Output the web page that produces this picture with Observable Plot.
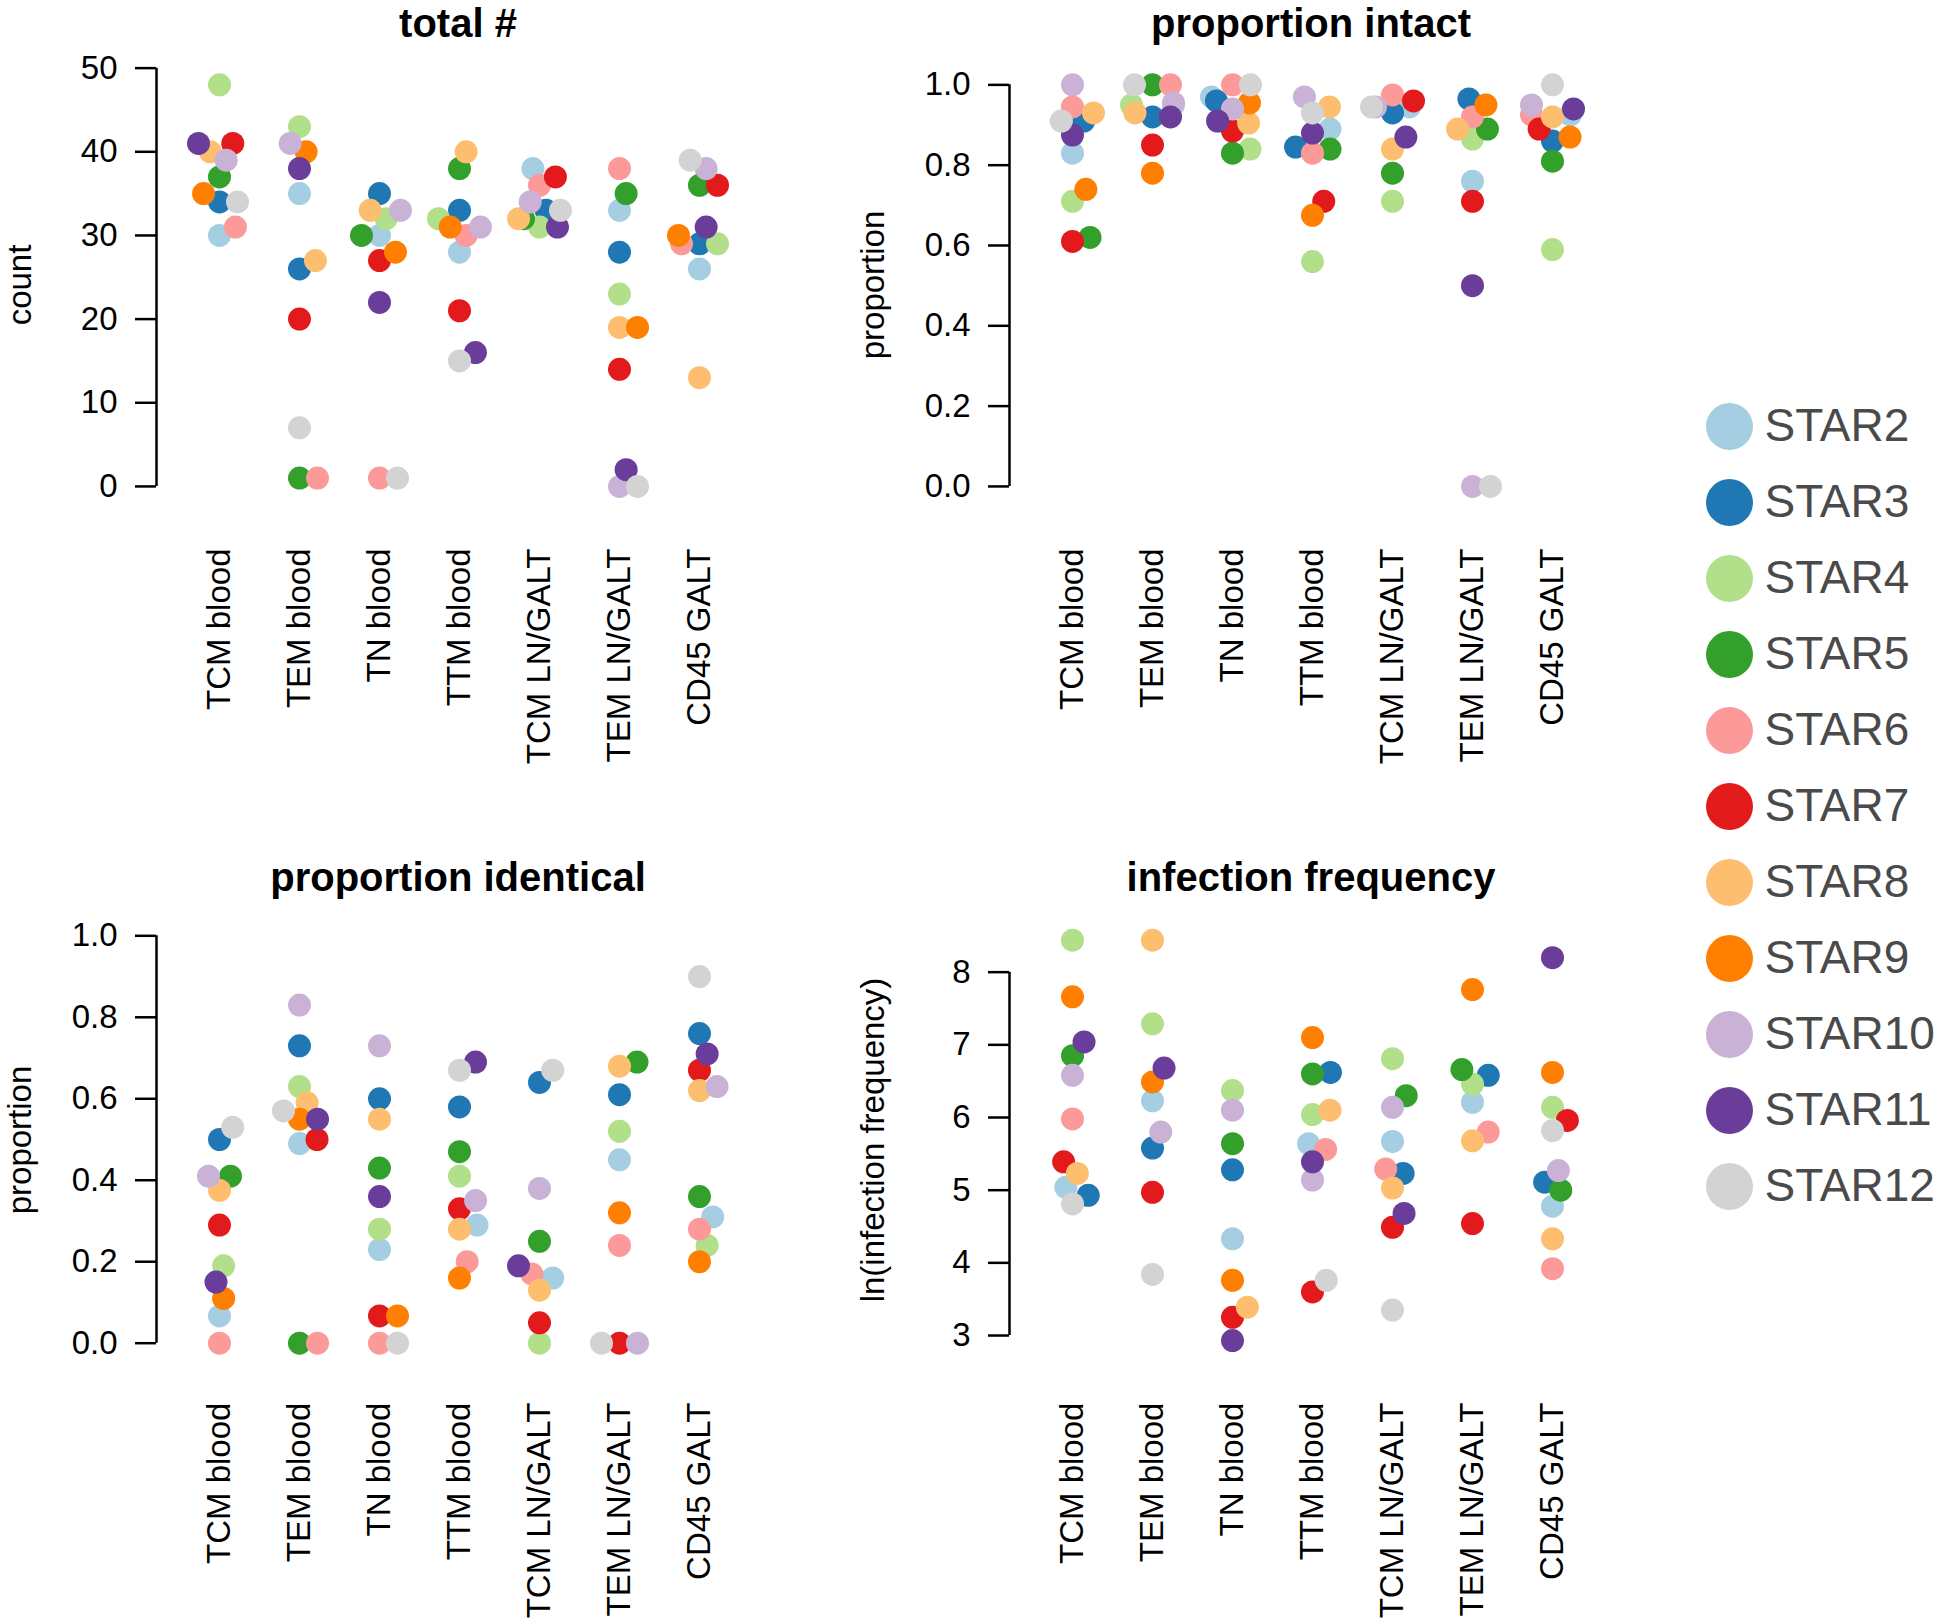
<!DOCTYPE html>
<html>
<head>
<meta charset="utf-8">
<script src="https://cdn.jsdelivr.net/npm/d3@7"></script>
<script src="https://cdn.jsdelivr.net/npm/@observablehq/plot@0.6"></script>
<style>
  body { margin: 0; background: #fff; }
  #root { position: relative; width: 1940px; height: 1624px; overflow: hidden; background: #fff; }
  .panel { position: absolute; }
</style>
</head>
<body>
<div id="root"></div>
<script>
// ---------------- data ----------------
const categories = ["TCM blood", "TEM blood", "TN blood", "TTM blood", "TCM LN/GALT", "TEM LN/GALT", "CD45 GALT"];
const stars = ["STAR2", "STAR3", "STAR4", "STAR5", "STAR6", "STAR7", "STAR8", "STAR9", "STAR10", "STAR11", "STAR12"];
const colors = ["#a6cee3", "#1f78b4", "#b2df8a", "#33a02c", "#fb9a99", "#e31a1c", "#fdbf6f", "#ff7f00", "#cab2d6", "#6a3d9a", "#d3d3d3"];

// rows: STAR2..STAR12, columns: categories (null = not measured)
const totalCount = [
  [30, 35, 30, 28, 38, 33, 26],
  [34, 26, 35, 33, 33, 28, 29],
  [48, 43, 32, 32, 31, 23, 29],
  [37, 1, 30, 38, 32, 35, 36],
  [31, 1, 1, 30, 36, 38, 29],
  [41, 20, 27, 21, 37, 14, 36],
  [40, 27, 33, 40, 32, 19, 13],
  [35, 40, 28, 31, null, 19, 30],
  [39, 41, 33, 31, 34, 0, 38],
  [41, 38, 22, 16, 31, 2, 31],
  [34, 7, 1, 15, 33, 0, 39]
];
const propIntact = [
  [0.83, 0.95, 0.97, 0.89, 0.945, 0.76, 0.925],
  [0.91, 0.92, 0.96, 0.845, 0.93, 0.965, 0.86],
  [0.71, 0.95, 0.84, 0.56, 0.71, 0.865, 0.59],
  [0.62, 1.0, 0.83, 0.84, 0.78, 0.89, 0.81],
  [0.945, 1.0, 1.0, 0.83, 0.975, 0.92, 0.925],
  [0.61, 0.85, 0.885, 0.71, 0.96, 0.71, 0.89],
  [0.93, 0.93, 0.905, 0.945, 0.84, 0.89, 0.92],
  [0.74, 0.78, 0.955, 0.675, null, 0.95, 0.87],
  [1.0, 0.955, 0.94, 0.97, 0.945, 0.0, 0.95],
  [0.875, 0.92, 0.91, 0.88, 0.87, 0.5, 0.94],
  [0.91, 1.0, 1.0, 0.93, 0.945, 0.0, 1.0]
];
const propIdentical = [
  [0.067, 0.49, 0.23, 0.29, 0.16, 0.45, 0.31],
  [0.50, 0.73, 0.60, 0.58, 0.64, 0.61, 0.76],
  [0.19, 0.63, 0.28, 0.41, 0.0, 0.52, 0.24],
  [0.41, 0.0, 0.43, 0.47, 0.25, 0.69, 0.36],
  [0.0, 0.0, 0.0, 0.20, 0.17, 0.24, 0.28],
  [0.29, 0.50, 0.067, 0.33, 0.05, 0.0, 0.67],
  [0.375, 0.59, 0.55, 0.28, 0.13, 0.68, 0.62],
  [0.11, 0.55, 0.067, 0.16, null, 0.32, 0.20],
  [0.41, 0.83, 0.73, 0.35, 0.38, 0.0, 0.63],
  [0.15, 0.55, 0.36, 0.69, 0.19, null, 0.71],
  [0.53, 0.57, 0.0, 0.67, 0.67, 0.0, 0.90]
];
const lnInfectionFreq = [
  [5.04, 6.23, 4.33, 5.64, 5.67, 6.21, 4.78],
  [4.93, 5.58, 5.28, 6.62, 5.23, 6.58, 5.11],
  [8.44, 7.29, 6.37, 6.04, 6.81, 6.46, 6.14],
  [6.85, null, 5.64, 6.60, 6.30, 6.66, 5.00],
  [5.98, null, null, 5.56, 5.29, 5.80, 3.92],
  [5.39, 4.97, 3.25, 3.60, 4.49, 4.54, 5.96],
  [5.23, 8.44, 3.39, 6.10, 5.03, 5.68, 4.33],
  [7.66, 6.49, 3.76, 7.10, null, 7.76, 6.62],
  [6.58, 5.80, 6.10, 5.14, 6.14, null, 5.27],
  [7.04, 6.68, 2.93, 5.39, 4.68, null, 8.20],
  [4.81, 3.84, null, 3.76, 3.35, null, 5.82]
];

const countTicks = [0, 10, 20, 30, 40, 50];
const propTicks = [0, 0.2, 0.4, 0.6, 0.8, 1.0];
const freqTicks = [3, 4, 5, 6, 7, 8];

const titles = ["total #", "proportion intact", "proportion identical", "infection frequency"];
const yLabels = ["count", "proportion", "proportion", "ln(infection frequency)"];

// ---------------- drawing ----------------
const FONT = "'Liberation Sans', Arial, Helvetica, sans-serif";
const root = document.getElementById("root");

function toRows(values) {
  const rows = [];
  stars.forEach((s, si) => categories.forEach((c, ci) => {
    const v = values[si][ci];
    if (v != null) rows.push({star: s, si, cat: c, value: v});
  }));
  // swarm placement in ascending order of value
  rows.sort((a, b) => a.value - b.value || a.si - b.si);
  return rows;
}

// Mirror the swarm (ties go to the right side), keep it inside a corral
// around each group's centre (gutter), and draw in series order.
const GUTTER = 21;
const corralAndOrder = (data, facets, channels, scales, dimensions) => {
  const c = (dimensions.marginLeft + dimensions.width - dimensions.marginRight) / 2;
  const X = Float64Array.from(channels.x.value, (x) => Math.max(c - GUTTER, Math.min(c + GUTTER, 2 * c - x)));
  return {
    data,
    facets: facets.map((I) => Array.from(I).sort((a, b) => data[a].si - data[b].si)),
    channels: {x: {...channels.x, value: X}}
  };
};

function panel({values, left, top, height, marginTop, marginBottom, yDomain, ticks, fmt}) {
  const rows = toRows(values);
  const svg = Plot.plot({
    width: 760,
    height,
    marginLeft: 179,
    marginRight: 21,
    marginTop,
    marginBottom,
    style: {fontFamily: FONT, fontSize: "33px", background: "transparent", color: "#000", overflow: "visible"},
    fx: {domain: categories, padding: 0, label: null},
    x: {domain: [0, 1], axis: null},
    y: {domain: yDomain},
    color: {domain: stars, range: colors},
    marks: [
      Plot.axisFx({anchor: "bottom", tickRotate: -90, tickSize: 0, tickPadding: 46, fontSize: 33, label: null}),
      Plot.axisY({ticks, tickFormat: fmt, tickSize: 21, tickPadding: 18, dx: -23, strokeWidth: 2.5, fontSize: 33, label: null}),
      Plot.ruleX([categories[0]], {fx: (d) => d, x: () => 0, y1: () => ticks[0], y2: () => ticks[ticks.length - 1], dx: -23, strokeWidth: 2.5}),
      Plot.dot(rows, Plot.initializer(
        Plot.dodgeX({anchor: "middle", padding: -5, r: 11.5, y: "value", fx: "cat", fill: "star"}),
        corralAndOrder
      ))
    ]
  });
  svg.classList.add("panel");
  svg.style.left = left + "px";
  svg.style.top = top + "px";
  root.appendChild(svg);
}

const fmtInt = (d) => String(d);
const fmt1 = d3.format(".1f");

panel({values: totalCount, left: 0, top: 0, height: 800, marginTop: 68.3, marginBottom: 298,
  yDomain: [-1.92, 49.92], ticks: countTicks, fmt: fmtInt});
panel({values: propIntact, left: 853, top: 0, height: 800, marginTop: 68.3, marginBottom: 298,
  yDomain: [-0.04, 1.04], ticks: propTicks, fmt: fmt1});
panel({values: propIdentical, left: 0, top: 850, height: 774, marginTop: 73.7, marginBottom: 267.9,
  yDomain: [-0.0329, 1.0285], ticks: propTicks, fmt: fmt1});
panel({values: lnInfectionFreq, left: 853, top: 850, height: 774, marginTop: 73.7, marginBottom: 267.9,
  yDomain: [2.71, 8.66], ticks: freqTicks, fmt: fmtInt});

// legend
const legend = Plot.plot({
  width: 260,
  height: 860,
  margin: 0,
  style: {fontFamily: FONT, background: "transparent", overflow: "visible"},
  x: {domain: [0, 1], range: [49, 259], axis: null},
  y: {type: "point", domain: stars, range: [46, 806], padding: 0, axis: null},
  color: {domain: stars, range: colors},
  marks: [
    Plot.dot(stars, {x: () => 0, y: (d) => d, r: 23.5, fill: (d) => d}),
    Plot.text(stars, {x: () => 0, y: (d) => d, text: (d) => d, dx: 35, textAnchor: "start", fontSize: 46, fill: "#4a4a4a"})
  ]
});
legend.classList.add("panel");
legend.style.left = "1680px";
legend.style.top = "380px";
root.appendChild(legend);

// titles and y-axis labels
const overlay = d3.create("svg")
  .attr("width", 1940).attr("height", 1624)
  .style("position", "absolute").style("left", "0px").style("top", "0px")
  .style("pointer-events", "none")
  .style("font-family", FONT);
const titlePos = [[458, 37], [1311, 37], [458, 891], [1311, 891]];
titles.forEach((t, i) => {
  overlay.append("text").attr("x", titlePos[i][0]).attr("y", titlePos[i][1])
    .attr("text-anchor", "middle").attr("font-weight", "bold").attr("font-size", 40).attr("fill", "#000").text(t);
});
const labelPos = [[31, 285], [884, 285], [31, 1140], [884, 1140]];
yLabels.forEach((t, i) => {
  overlay.append("text")
    .attr("transform", `translate(${labelPos[i][0]},${labelPos[i][1]}) rotate(-90)`)
    .attr("text-anchor", "middle").attr("font-size", 33).attr("fill", "#000").text(t);
});
root.appendChild(overlay.node());
</script>
</body>
</html>
